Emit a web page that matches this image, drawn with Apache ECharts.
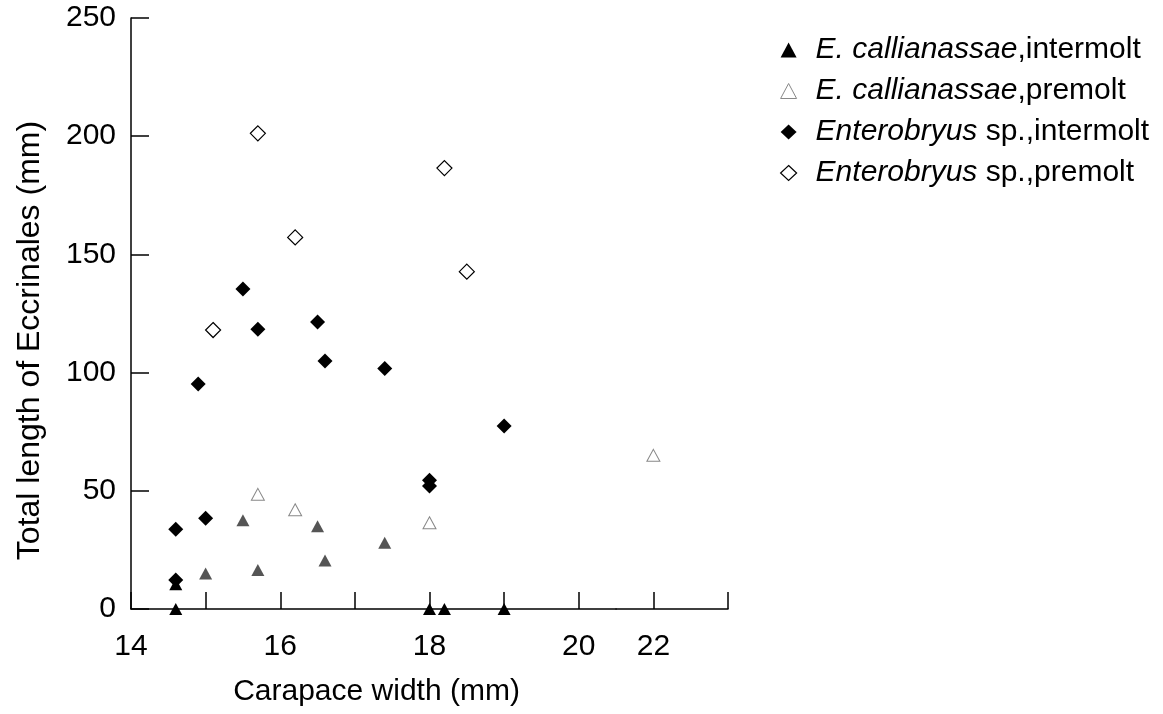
<!DOCTYPE html>
<html>
<head>
<meta charset="utf-8">
<script src="https://cdn.jsdelivr.net/npm/echarts@6/dist/echarts.min.js"></script>
<style>
  html, body { margin: 0; padding: 0; background: #fff; }
  #chart { width: 1163px; height: 714px; }
</style>
</head>
<body>
<div id="chart"></div>
<script>
// Carapace width (mm) against total Eccrinales length (mm)
const seriesNames = [
  'E. callianassae,intermolt',
  'E. callianassae,premolt',
  'Enterobryus sp.,intermolt',
  'Enterobryus sp.,premolt'
];
const speciesPart = ['E. callianassae', 'E. callianassae', 'Enterobryus', 'Enterobryus'];
const stagePart = [',intermolt', ',premolt', ' sp.,intermolt', ' sp.,premolt'];

// E. callianassae, intermolt
const ecIntermoltX = [14.6, 14.6, 15.0, 15.5, 15.7, 16.5, 16.6, 17.4, 18.0, 18.2, 19.0];
const ecIntermoltY = [0, 10.5, 15, 37.5, 16.5, 35, 20.5, 28, 0, 0, 0];
// E. callianassae, premolt
const ecPremoltX = [15.7, 16.2, 18.0, 22];
const ecPremoltY = [48.5, 42, 36.5, 65];
// Enterobryus sp., intermolt
const enIntermoltX = [14.6, 14.6, 14.9, 15.0, 15.5, 15.7, 16.5, 16.6, 17.4, 18.0, 18.0, 19.0];
const enIntermoltY = [12.3, 33.7, 95.2, 38.4, 135.4, 118.3, 121.4, 104.9, 101.7, 54.5, 52, 77.4];
// Enterobryus sp., premolt
const enPremoltX = [15.1, 15.7, 16.2, 18.2, 18.5];
const enPremoltY = [118, 201.2, 157.2, 186.5, 142.7];

// Tick labels; the x scale runs 14–20, then jumps to a short 22–23 stretch
const xTicksLow = [14, 15, 16, 17, 18, 19, 20];
const xLabelsLow = [14, 16, 18, 20];
const xTicksHigh = [22, 23];
const xLabelsHigh = [22];
const yTickLabels = [0, 50, 100, 150, 200, 250];

// the two x stretches: [min, max]
const lowRange = [14, 20.5];
const highRange = [21.5, 23];

const pairs = (xs, ys) => xs.map((x, i) => [x, ys[i]]);
const within = (pts, r) => pts.filter(p => p[0] >= r[0] && p[0] <= r[1]);

const FONT = '"Liberation Sans", Arial, sans-serif';
const INK = '#000';

// plot box in pixels
const PLOT_LEFT = 131, PLOT_RIGHT = 728, PLOT_TOP = 18, PLOT_BOTTOM = 609, W = 1163, H = 714;
const PX_PER_UNIT = (PLOT_RIGHT - PLOT_LEFT) /
  ((lowRange[1] - lowRange[0]) + (highRange[1] - highRange[0]));
const splitX = PLOT_LEFT + (lowRange[1] - lowRange[0]) * PX_PER_UNIT;

const chart = echarts.init(document.getElementById('chart'), null, { renderer: 'canvas' });

const legendIcons = [
  { icon: 'triangle', itemStyle: { color: '#000', borderWidth: 0, opacity: 1 } },
  { icon: 'triangle', itemStyle: { color: '#fff', borderColor: '#888', borderWidth: 1, opacity: 1 } },
  { icon: 'diamond', itemStyle: { color: '#000', borderWidth: 0, opacity: 1 } },
  { icon: 'diamond', itemStyle: { color: '#fff', borderColor: '#000', borderWidth: 1.2, opacity: 1 } }
];

const seriesStyles = [
  { symbol: 'triangle', symbolSize: [13, 12], z: 3,
    // marks lying on or just above the baseline print solid black
    itemStyle: { opacity: 1, color: p => (p.value[1] > 12 ? '#555' : '#000') } },
  { symbol: 'triangle', symbolSize: [13, 12], z: 2,
    itemStyle: { opacity: 1, color: '#fff', borderColor: '#888', borderWidth: 1 } },
  { symbol: 'diamond', symbolSize: 15, z: 4,
    itemStyle: { opacity: 1, color: '#000' } },
  { symbol: 'diamond', symbolSize: 15, z: 2,
    itemStyle: { opacity: 1, color: '#fff', borderColor: '#000', borderWidth: 1.2 } }
];

const allPoints = [
  pairs(ecIntermoltX, ecIntermoltY),
  pairs(ecPremoltX, ecPremoltY),
  pairs(enIntermoltX, enIntermoltY),
  pairs(enPremoltX, enPremoltY)
];

const series = [];
[lowRange, highRange].forEach((range, gi) => {
  allPoints.forEach((pts, si) => {
    series.push(Object.assign({
      name: seriesNames[si],
      type: 'scatter',
      xAxisIndex: gi,
      yAxisIndex: gi,
      data: within(pts, range)
    }, seriesStyles[si]));
  });
});

const axisLineStyle = { show: true, lineStyle: { color: INK, width: 1.5 } };
const labelFont = { fontFamily: FONT, fontSize: 30, color: INK };

const option = {
  backgroundColor: '#fff',
  animation: false,
  grid: [
    { left: PLOT_LEFT, right: W - splitX, top: PLOT_TOP, bottom: H - PLOT_BOTTOM, outerBoundsMode: 'none' },
    { left: splitX, right: W - PLOT_RIGHT, top: PLOT_TOP, bottom: H - PLOT_BOTTOM, outerBoundsMode: 'none' }
  ],
  legend: {
    orient: 'vertical',
    left: 775,
    top: 30,
    itemWidth: 16,
    itemHeight: 15,
    itemGap: 11,
    data: seriesNames.map((n, i) => Object.assign({ name: n }, legendIcons[i])),
    formatter: name => {
      const i = seriesNames.indexOf(name);
      return '{s|}{i|' + speciesPart[i] + '}' + stagePart[i];
    },
    textStyle: Object.assign({}, labelFont, {
      lineHeight: 30,
      rich: {
        s: { width: 14 },
        i: Object.assign({}, labelFont, { fontStyle: 'italic', lineHeight: 30 })
      }
    })
  },
  xAxis: [
    {
      gridIndex: 0,
      type: 'value',
      min: lowRange[0],
      max: lowRange[1],
      interval: 1,
      name: 'Carapace width (mm)',
      nameLocation: 'middle',
      nameGap: 68,
      nameTextStyle: Object.assign({}, labelFont, { padding: [0, 0, 0, 6] }),
      axisLine: axisLineStyle,
      axisTick: { show: true, inside: true, length: 17, customValues: xTicksLow,
        lineStyle: { color: INK, width: 1.5 } },
      axisLabel: Object.assign({}, labelFont, { margin: 23, customValues: xLabelsLow }),
      splitLine: { show: false }
    },
    {
      gridIndex: 1,
      type: 'value',
      min: highRange[0],
      max: highRange[1],
      axisLine: axisLineStyle,
      axisTick: { show: true, inside: true, length: 17, customValues: xTicksHigh,
        lineStyle: { color: INK, width: 1.5 } },
      axisLabel: Object.assign({}, labelFont, { margin: 23, customValues: xLabelsHigh }),
      splitLine: { show: false }
    }
  ],
  yAxis: [
    {
      gridIndex: 0,
      type: 'value',
      min: 0,
      max: 250,
      interval: 50,
      name: 'Total length of Eccrinales (mm)',
      nameLocation: 'middle',
      nameGap: 85,
      nameTextStyle: { fontFamily: FONT, fontSize: 32, color: INK, padding: [0, 54, 0, 0] },
      axisLine: axisLineStyle,
      axisTick: { show: true, inside: true, length: 18, lineStyle: { color: INK, width: 1.5 } },
      axisLabel: Object.assign({}, labelFont, {
        margin: 15, padding: [11, 0, 0, 0],
        formatter: v => (yTickLabels.indexOf(v) >= 0 ? String(v) : '')
      }),
      splitLine: { show: false }
    },
    {
      gridIndex: 1,
      type: 'value',
      min: 0,
      max: 250,
      show: false
    }
  ],
  series: series
};

chart.setOption(option);
</script>
</body>
</html>
